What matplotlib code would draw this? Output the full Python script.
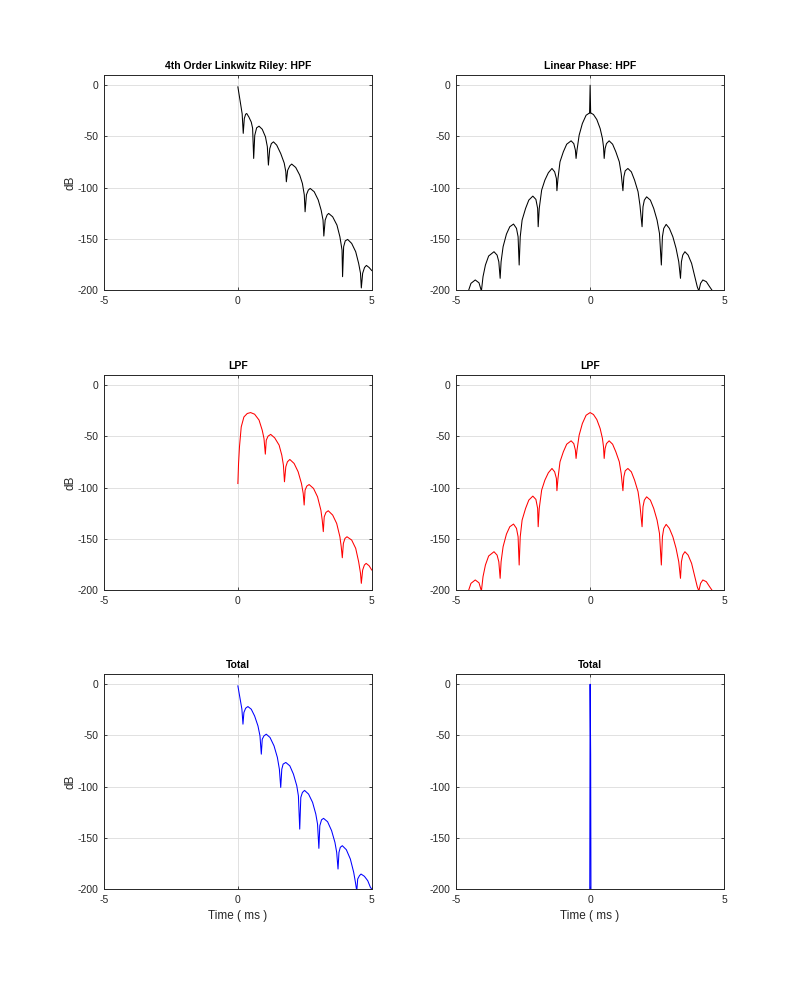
import matplotlib
matplotlib.use('Agg')
import matplotlib.pyplot as plt

plt.rcParams['font.family'] = ['Liberation Sans', 'DejaVu Sans']
plt.rcParams['axes.unicode_minus'] = False

# 4th order Linkwitz Riley (minimum phase) impulse responses, in dB
lr_hpf_t = [0, 0.1, 0.16, 0.2,
  0.24, 0.29, 0.33, 0.41, 0.5, 0.55, 0.59,
  0.63, 0.7, 0.79, 0.91, 1.03, 1.1, 1.14,
  1.19, 1.25, 1.33, 1.45, 1.6, 1.73, 1.79, 1.81,
  1.86, 1.94, 2.01, 2.16, 2.31, 2.41, 2.48, 2.51,
  2.56, 2.63, 2.7, 2.85, 3.0, 3.11, 3.18, 3.21,
  3.26, 3.33, 3.39, 3.54, 3.7, 3.81, 3.89, 3.91,
  3.95, 4.01, 4.1, 4.25, 4.4, 4.51, 4.58, 4.61,
  4.66, 4.73, 4.8, 4.9, 5.0]
lr_hpf_db = [-1.6, -18, -28, -47,
  -32.5, -28.3, -27.6, -31, -36, -42, -71.5,
  -49, -41.6, -40, -43, -50.4, -60, -78,
  -62, -57, -55.3, -58.5, -66.7, -76, -84.5, -94.3,
  -83, -78.7, -77, -80.3, -87.8, -96, -107, -123.6,
  -107, -102.4, -100.8, -104, -112, -122, -131.7, -147.3,
  -131.7, -126.8, -125.2, -128.5, -136.6, -148, -161, -187,
  -157.7, -152, -150.6, -154.5, -162.6, -174, -183.7, -198,
  -183.7, -178, -176, -178, -181]

lr_lpf_t = [0, 0.025, 0.06, 0.125, 0.225, 0.35, 0.475, 0.625, 0.79, 0.91, 0.975, 1.025,
  1.06, 1.125, 1.225, 1.375, 1.54, 1.64, 1.7, 1.74,
  1.79, 1.85, 1.94, 2.1, 2.25, 2.375, 2.44, 2.475,
  2.51, 2.575, 2.66, 2.825, 2.975, 3.1, 3.15, 3.19,
  3.225, 3.29, 3.375, 3.54, 3.69, 3.81, 3.86, 3.9,
  3.94, 4.0, 4.075, 4.25, 4.4, 4.51, 4.58, 4.61,
  4.66, 4.725, 4.79, 4.9, 5.0]
lr_lpf_db = [-96, -76.4, -60, -40.7, -31, -27.6, -26.7, -28.3, -34, -44, -52, -67.3,
  -53.7, -49.8, -48, -51.4, -58.5, -68.3, -78, -94.3,
  -79.7, -74.8, -72.5, -76.4, -84.5, -96, -105.7, -117,
  -102.4, -98.5, -97, -100.8, -109, -122, -131.7, -143,
  -128.5, -124.2, -122.6, -126.8, -135, -148, -157.7, -168.5,
  -154.5, -149.6, -148, -151.2, -159.3, -172.4, -183.7, -193.5,
  -180.5, -175.6, -174, -176.3, -180.5]

lr_tot_t = [0, 0.075, 0.15, 0.19,
  0.225, 0.29, 0.375, 0.5, 0.625, 0.75, 0.825, 0.875,
  0.91, 0.975, 1.06, 1.2, 1.35, 1.475, 1.55, 1.6,
  1.64, 1.69, 1.79, 1.94, 2.075, 2.2, 2.26, 2.31,
  2.35, 2.41, 2.49, 2.64, 2.79, 2.91, 2.975, 3.025,
  3.06, 3.125, 3.2, 3.35, 3.5, 3.625, 3.69, 3.74,
  3.775, 3.825, 3.9, 4.05, 4.2, 4.325, 4.39, 4.44,
  4.475, 4.54, 4.6, 4.725, 4.85, 4.95, 5.0]
lr_tot_db = [-1.6, -13, -24.4, -39,
  -27.6, -23.4, -21.8, -24.4, -31, -40.7, -50.4, -68.3,
  -53.7, -50.4, -48.8, -52, -60.2, -71.5, -83, -100.8,
  -83, -78, -76.4, -79.7, -87.8, -99.2, -109, -141.5,
  -110.6, -105.7, -103.7, -107.3, -115.4, -126.8, -136.6, -160.3,
  -138.2, -132.4, -131, -134.3, -143, -154.5, -164.2, -180.5,
  -164.2, -159.3, -157.7, -161.6, -170.7, -183.7, -193.5, -202,
  -190.2, -187, -185.4, -187.6, -191.9, -198.4, -200]

# linear phase crossover (symmetric, centred on t = 0)
lin_lpf_t = [-4.54, -4.45, -4.29, -4.15, -4.06,
  -4.0, -3.91, -3.79, -3.59, -3.475, -3.41, -3.36,
  -3.325, -3.25, -3.125, -3.0, -2.86, -2.75, -2.69, -2.65,
  -2.61, -2.54, -2.41, -2.29, -2.14, -2.025, -1.96, -1.94,
  -1.9, -1.81, -1.69, -1.56, -1.425, -1.325, -1.26, -1.24,
  -1.2, -1.125, -1.0, -0.875, -0.71, -0.61, -0.55, -0.525,
  -0.49, -0.41, -0.29, -0.15, 0, 0.125, 0.25, 0.375, 0.46, 0.5, 0.525,
  0.56, 0.61, 0.71, 0.84, 0.96, 1.09, 1.16, 1.225,
  1.26, 1.31, 1.41, 1.54, 1.66, 1.79, 1.86, 1.94,
  1.975, 2.025, 2.11, 2.25, 2.375, 2.5, 2.59, 2.66,
  2.7, 2.75, 2.84, 2.96, 3.09, 3.21, 3.31, 3.375,
  3.41, 3.46, 3.54, 3.66, 3.79, 3.91, 4.0, 4.06,
  4.125, 4.21, 4.34, 4.46, 4.56]
lin_lpf_db = [-200.5, -193.5, -190.2, -193, -201,
  -187, -175.6, -166.8, -162.6, -165.9, -172.4, -188.6,
  -172.4, -157.7, -145.4, -138.2, -135.6, -139.8, -148, -175.6,
  -148, -131.7, -120.3, -112.2, -108.3, -111.5, -120.3, -138.2,
  -120.3, -102.4, -92.7, -85.5, -81.3, -84.6, -91, -103,
  -91, -74.8, -65, -57.6, -54.3, -57, -63.4, -71.5,
  -63.4, -48.8, -37.4, -29.3, -26.7, -28.6, -33.5, -42.3, -52, -60.2, -71.5,
  -61.8, -57, -54.3, -57.6, -65, -74.8, -86.2, -103,
  -89.4, -83.6, -81.3, -84.6, -92.7, -104, -117, -138.2,
  -118.7, -112.2, -109, -112.2, -120.3, -131.7, -144.7, -175.6,
  -148, -139.8, -135.9, -139.8, -148, -159.3, -172.4, -188.6,
  -172.4, -165.9, -162.6, -165.9, -174, -187, -196.7, -201,
  -193.5, -190.2, -191.9, -196.7, -200.5]

# HPF = delta - LPF, so it only differs by the spike at t = 0
lin_spike_t = [-0.02, 0, 0.02]
lin_spike_db = [-27, 0, -27]

lin_tot_t = [-0.04, -0.02, 0, 0.02, 0.04]
lin_tot_db = [-300, -300, 0, -69, -300]

titles = [['4th Order Linkwitz Riley: HPF', 'Linear Phase: HPF'],
  ['LPF', 'LPF'],
  ['Total', 'Total']]

fig = plt.figure(figsize=(8, 10), dpi=100)

lefts = [0.13, 0.5703]
bottoms = [0.710, 0.410, 0.111]
width = 0.3347
height = 0.215

axes = [[None, None] for _ in range(3)]
for r in range(3):
  for c in range(2):
    ax = fig.add_axes([lefts[c], bottoms[r], width, height])
    ax.set_xlim(-5, 5)
    ax.set_ylim(-200, 10)
    ax.set_xticks([-5, 0, 5])
    ax.set_yticks([-200, -150, -100, -50, 0])
    ax.grid(True, color='#dcdcdc', linewidth=0.6)
    ax.set_axisbelow(True)
    ax.tick_params(direction='in', length=2.5, width=0.6, labelsize=7.5,
                   colors='#262626', top=True, right=True, pad=4)
    for s in ax.spines.values():
      s.set_linewidth(0.7)
      s.set_color('#262626')
    ax.set_title(titles[r][c], fontsize=7.5, fontweight='bold', pad=4)
    if c == 0:
      ax.set_ylabel('dB', fontsize=8.5, color='#262626', labelpad=1)
    if r == 2:
      ax.set_xlabel('Time ( ms )', fontsize=8.5, color='#262626')
    axes[r][c] = ax

lw = 0.75
axes[0][0].plot(lr_hpf_t, lr_hpf_db, color='k', linewidth=lw)
axes[1][0].plot(lr_lpf_t, lr_lpf_db, color='r', linewidth=lw)
axes[2][0].plot(lr_tot_t, lr_tot_db, color='b', linewidth=lw)

axes[0][1].plot(lin_lpf_t, lin_lpf_db, color='k', linewidth=lw)
axes[0][1].plot(lin_spike_t, lin_spike_db, color='k', linewidth=lw)
axes[1][1].plot(lin_lpf_t, lin_lpf_db, color='r', linewidth=lw)
axes[2][1].plot(lin_tot_t, lin_tot_db, color='b', linewidth=lw)

plt.savefig('out.png', dpi=100)
